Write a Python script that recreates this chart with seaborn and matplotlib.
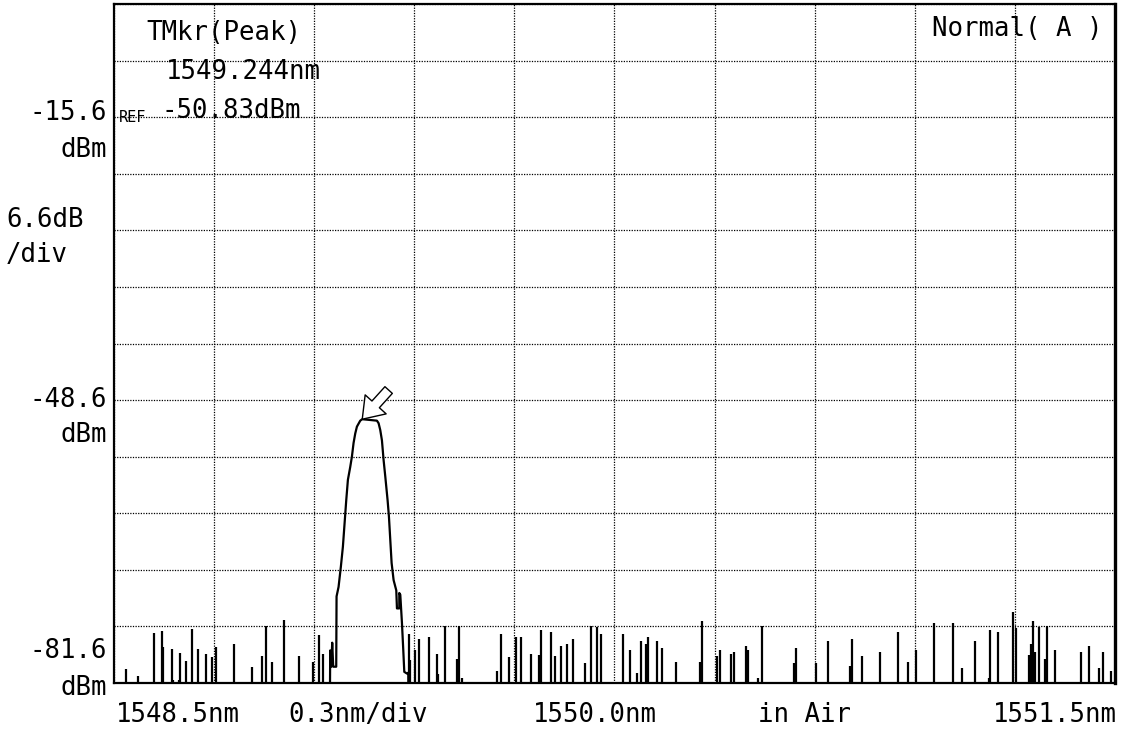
import numpy as np
import pandas as pd
import seaborn as sns
import matplotlib
matplotlib.use("Agg")
import matplotlib.pyplot as plt

# ---------------- data ----------------
# main peak trace (wavelength nm, level dBm); -90 = below the display floor
peak_wl = [1549.146, 1549.148, 1549.151, 1549.154, 1549.157, 1549.166, 1549.167,
           1549.173, 1549.180, 1549.186, 1549.191, 1549.196, 1549.201, 1549.208,
           1549.213, 1549.218, 1549.223, 1549.228, 1549.238, 1549.244, 1549.288,
           1549.293, 1549.298, 1549.303, 1549.308, 1549.313, 1549.320, 1549.324,
           1549.328, 1549.332, 1549.338, 1549.346, 1549.348, 1549.355, 1549.355,
           1549.358, 1549.363, 1549.367, 1549.370, 1549.378, 1549.382, 1549.383]
peak_db = [-90.0, -77.8, -79.7, -76.9, -79.7, -79.7, -71.5,
           -70.4, -68.0, -65.7, -63.0, -60.3, -57.9, -56.4,
           -55.2, -53.6, -52.5, -51.7, -51.0, -50.83, -51.0,
           -51.3, -52.1, -53.3, -55.6, -57.5, -60.3, -62.2,
           -64.9, -67.6, -69.6, -70.8, -72.9, -72.9, -71.1,
           -71.3, -74.6, -77.8, -80.3, -80.5, -80.4, -90.0]

# noise spikes rising from below the floor
spike_wl = [1548.536, 1548.572, 1548.621, 1548.644, 1548.648, 1548.674, 1548.678,
            1548.695, 1548.698, 1548.717, 1548.734, 1548.752, 1548.776, 1548.795,
            1548.805, 1548.861, 1548.915, 1548.944, 1548.957, 1548.975, 1549.010,
            1549.053, 1549.095, 1549.113, 1549.126,
            1549.385, 1549.388, 1549.401, 1549.414, 1549.443, 1549.467, 1549.471,
            1549.492, 1549.527, 1549.534, 1549.542, 1549.647, 1549.659, 1549.684,
            1549.705, 1549.720, 1549.750, 1549.773, 1549.780, 1549.810, 1549.821,
            1549.839, 1549.858, 1549.876, 1549.912, 1549.930, 1549.948, 1549.960,
            1550.026, 1550.045, 1550.068, 1550.080, 1550.094, 1550.099, 1550.128,
            1550.141, 1550.183, 1550.256, 1550.261, 1550.308, 1550.315, 1550.350,
            1550.358, 1550.393, 1550.399, 1550.429, 1550.443, 1550.537, 1550.543,
            1550.604, 1550.640, 1550.706, 1550.711, 1550.743, 1550.796, 1550.850,
            1550.879, 1550.904, 1550.958, 1551.013, 1551.042, 1551.079, 1551.121,
            1551.126, 1551.150, 1551.193, 1551.204, 1551.241, 1551.248, 1551.254,
            1551.260, 1551.271, 1551.290, 1551.296, 1551.320, 1551.397, 1551.422,
            1551.452, 1551.464, 1551.487]
spike_db = [-80.0, -80.8, -75.8, -75.5, -77.4, -77.6, -81.2,
            -81.3, -78.1, -79.0, -75.3, -77.6, -78.2, -78.6,
            -77.4, -77.1, -79.7, -78.4, -75.0, -79.2, -74.2,
            -78.4, -79.2, -76.0, -78.2,
            -75.9, -78.9, -77.75, -76.5, -76.2, -78.25, -80.6,
            -74.9, -78.8, -74.9, -81.0, -80.2, -75.9, -78.6,
            -76.2, -76.2, -78.25, -78.3, -75.4, -75.7, -78.5,
            -77.25, -77.0, -76.5, -79.3, -74.9, -75.1, -75.9,
            -75.9, -77.75, -80.4, -76.7, -77.0, -76.2, -76.7,
            -77.5, -79.1, -79.1, -74.4, -78.4, -77.75, -78.25,
            -78.0, -77.25, -77.75, -81.0, -74.9, -79.3, -77.5,
            -79.3, -76.7, -79.6, -76.5, -78.5, -78.0, -75.7,
            -79.1, -77.8, -74.6, -74.6, -79.9, -76.7, -81.0,
            -75.4, -75.7, -73.3, -75.2, -78.3, -77.0, -74.4,
            -78.0, -75.1, -78.8, -74.9, -77.75, -78.0, -77.25,
            -79.9, -78.0, -80.2]

# axis settings
wl_start, wl_stop, wl_div = 1548.5, 1551.5, 0.3
ref_level, db_div = -15.6, 6.6
floor_level = -81.6
n_ydiv = 12
marker_wl, marker_db = 1549.244, -50.83

# ---------------- plot ----------------
sns.set_theme(style="white")
plt.rcParams["font.family"] = ["DejaVu Sans Mono", "DejaVu Sans"]

W, H = 1134, 733
fig = plt.figure(figsize=(W / 100, H / 100), dpi=100, facecolor="white")
ax = fig.add_axes([114 / W, (H - 683) / H, (1115 - 114) / W, (683 - 4) / H])
ax.set_facecolor("white")

df_peak = pd.DataFrame({"wl": peak_wl, "db": peak_db})
sns.lineplot(data=df_peak, x="wl", y="db", sort=False, estimator=None,
             color="black", lw=1.6, ax=ax, zorder=3)
ax.vlines(spike_wl, -90, spike_db, color="black", lw=1.6, zorder=3)

ax.set_xlim(wl_start, wl_stop)
ax.set_ylim(floor_level, floor_level + n_ydiv * db_div)
ax.set_xticks(np.arange(wl_start, wl_stop + 1e-6, wl_div))
ax.set_yticks(floor_level + db_div * np.arange(n_ydiv + 1))
ax.tick_params(length=0, labelbottom=False, labelleft=False)
ax.grid(True, color="black", lw=0.9, linestyle=(0, (1, 1.1)), zorder=1)
ax.set_xlabel("")
ax.set_ylabel("")
for s in ax.spines.values():
    s.set_color("black")
    s.set_linewidth(1.6)
ax.spines["right"].set_linewidth(2.4)

# marker arrow (hollow, pointing at the peak)
ax.annotate("", xy=(marker_wl, marker_db), xycoords="data",
            xytext=(19, 21), textcoords="offset points",
            arrowprops=dict(arrowstyle="simple,head_length=1.2,head_width=1.7,tail_width=0.6",
                            fc="white", ec="black", lw=1.0, shrinkA=0, shrinkB=0),
            zorder=4)

fs = 18.5


def ftext(x, y, s, ha="left", size=fs, **kw):
    fig.text(x / W, 1 - y / H, s, ha=ha, va="baseline", fontsize=size,
             color="black", **kw)


ftext(107, 120, f"{ref_level:.1f}", ha="right")
ftext(107, 157, "dBm", ha="right")
ftext(6, 227, f"{db_div:.1f}dB")
ftext(6, 262, "/div")
ftext(107, 407, f"{ref_level - 5 * db_div:.1f}", ha="right")
ftext(107, 442, "dBm", ha="right")
ftext(107, 658, f"{floor_level:.1f}", ha="right")
ftext(107, 695, "dBm", ha="right")
ftext(119, 122, "REF", size=11)
ftext(146, 40, "TMkr(Peak)")
ftext(166, 79, f"{marker_wl:.3f}nm")
ftext(161, 118, f"{marker_db:.2f}dBm")
ftext(1103, 36, "Normal( A )", ha="right")

ftext(116, 722, f"{wl_start:.1f}nm")
ftext(288, 722, f"{wl_div:.1f}nm/div")
ftext(533, 722, f"{(wl_start + wl_stop) / 2:.1f}nm")
ftext(758, 722, "in Air")
ftext(1117, 722, f"{wl_stop:.1f}nm", ha="right")

fig.savefig("out.png", dpi=100, facecolor="white")
